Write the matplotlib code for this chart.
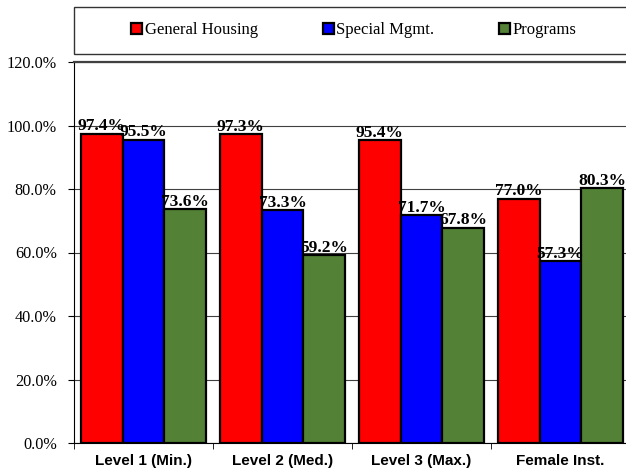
import matplotlib.pyplot as plt
import numpy as np
from matplotlib.patches import Rectangle
from matplotlib.ticker import FixedLocator

categories = ['Level 1 (Min.)', 'Level 2 (Med.)', 'Level 3 (Max.)', 'Female Inst.']
series_names = ['General Housing', 'Special Mgmt.', 'Programs']
general_housing = [97.4, 97.3, 95.4, 77.0]
special_mgmt = [95.5, 73.3, 71.7, 57.3]
programs = [73.6, 59.2, 67.8, 80.3]
colors = ['#ff0000', '#0000ff', '#538135']

serif = 'Liberation Serif'
sans = 'Liberation Sans'

fig = plt.figure(figsize=(6.26, 4.74), dpi=100)
# plot area runs a little past the right edge of the image
ax = fig.add_axes([74 / 626, 1 - 443 / 474, 556 / 626, 381 / 474])

x = np.arange(len(categories))
w = 0.3
for k, vals in enumerate([general_housing, special_mgmt, programs]):
    pos = x + (k - 1) * w
    ax.bar(pos, vals, w, color=colors[k], edgecolor='black', linewidth=1.6,
           label=series_names[k], zorder=3)
    for px, v in zip(pos, vals):
        ax.annotate(f'{v:.1f}%', (px, v), xytext=(0, -0.5), textcoords='offset points',
                    ha='center', va='bottom', fontsize=12.5, fontweight='bold',
                    family=serif, zorder=4)

ax.set_xlim(-0.5, 3.5)
ax.set_ylim(0, 120)
ax.set_yticks(np.arange(0, 121, 20))
ax.set_yticklabels([f'{t:.1f}%' for t in np.arange(0, 121, 20)], family=serif, fontsize=11.7)
ax.set_xticks(x)
ax.set_xticklabels(categories, family=sans, fontweight='bold', fontsize=11)
ax.xaxis.set_minor_locator(FixedLocator(np.arange(-0.5, 4, 1)))
ax.tick_params(axis='x', which='major', length=0, pad=8)
ax.tick_params(axis='x', which='minor', length=4, direction='out')
ax.tick_params(axis='y', length=4, direction='out', pad=8.5)

ax.grid(axis='y', color='#404040', linewidth=0.8, zorder=0)
ax.spines['right'].set_visible(False)
ax.spines['top'].set_color('#404040')
ax.spines['top'].set_linewidth(1.6)

# legend box across the top
fig.patches.append(Rectangle((74 / 626, 1 - 54 / 474), 570 / 626, 47.5 / 474,
                             transform=fig.transFigure, facecolor='white',
                             edgecolor='#333333', linewidth=1.0))
handles, labels = ax.get_legend_handles_labels()
fig.legend(handles, labels, loc='center', bbox_to_anchor=(354 / 626, 1 - 30 / 474),
           ncol=3, frameon=False, prop={'family': serif, 'size': 12},
           handlelength=0.65, handleheight=0.65, handletextpad=0.15, columnspacing=3.9)

fig.savefig('out.png', dpi=100)
